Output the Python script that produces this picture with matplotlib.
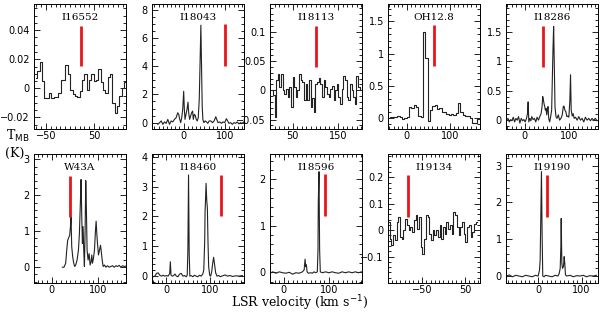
import numpy as np
import matplotlib
matplotlib.use("Agg")
import matplotlib.pyplot as plt
from matplotlib.ticker import FixedLocator, MultipleLocator, FuncFormatter

# ---------------- data ----------------
names = ["I16552", "I18043", "I18113", "OH12.8", "I18286",
         "W43A", "I18460", "I18596", "I19134", "I19190"]

# step spectra (channel start velocity, channel width, values)
i16552_v0, i16552_dv = -73.0, 4.9
i16552_T = [0.007, 0.012, 0.018, 0.005, -0.007, -0.007, -0.003, -0.007, -0.006, -0.006,
            -0.003, 0.006, 0.006, 0.016, 0.010, -0.001, -0.004, -0.005, -0.006, -0.002,
            0.006, 0.010, -0.001, 0.006, 0.010, 0.005, 0.006, 0.013, 0.004, -0.001,
            -0.003, 0.008, 0.010, -0.010, -0.017, -0.012, -0.005, 0.000, 0.004, 0.000]

i18113_v0, i18113_dv = 2.7, 3.6
i18113_T = [0, -0.008, -0.045, 0.017, 0.027, 0.006, 0.027, 0, -0.006, 0.003, -0.011, 0.006,
            -0.028, 0.023, 0.005, -0.011, 0, 0.027, 0.017, 0.014, -0.017, 0.011, -0.017,
            0.017, -0.028, -0.014, -0.037, 0.011, 0.014, 0.021, 0.011, -0.011, 0.017, 0.006,
            -0.006, -0.011, 0.003, 0.008, -0.017, 0, 0.011, -0.011, -0.023, 0.003, 0.025,
            0.017, -0.011, -0.017, 0.011, 0, -0.011, -0.023, 0.024, 0.006, 0.0]

oh128_v0, oh128_dv = -43.0, 5.4
oh128_T = [0.0, 0.01, 0.02, 0.01, 0.03, 0.02, -0.02, 0.0, 0.02, 0.17, 0.16, 0.20, 0.17,
           0.03, 0.02, 1.33, 0.93, -0.05, 0.13, 0.18, 0.20, 0.14, 0.15, 0.10, 0.10, 0.06,
           0.05, 0.07, 0.05, 0.08, 0.24, 0.10, 0.05, 0.03, 0.03, 0.0, -0.07, -0.07, -0.02,
           0.0, 0.03, 0.05]

i19134_v0, i19134_dv = -129.0, 4.0
i19134_T = [0.032, -0.032, -0.057, -0.019, -0.038, 0.032, 0.050, -0.025, -0.032, 0.0,
            0.044, 0.019, 0.0, 0.013, -0.006, 0.038, 0.057, 0.006, 0.050, -0.063, -0.092,
            -0.032, 0.057, 0.050, -0.013, -0.038, 0.0, -0.019, 0.0, -0.025, 0.019, -0.032,
            0.013, -0.013, 0.032, 0.006, 0.019, -0.013, 0.069, 0.057, 0.013, -0.019, 0.013,
            0.032, -0.013, -0.044, 0.013, 0.019, -0.025, -0.006, 0.025, 0.032]

# line spectra (velocity, value)
i18043_v = [-61.8, -57.8, -53.9, -49.9, -45.9, -41.9, -38.0, -34.0, -30.0, -26.1, -22.1,
            -18.1, -14.2, -11.8, -9.4, -7.0, -4.6, -2.2, 0.1, 1.7, 3.3, 5.7, 8.1, 10.5, 12.1,
            14.4, 16.8, 19.2, 21.6, 23.2, 25.6, 27.9, 30.3, 32.7, 35.1, 37.5, 39.8, 41.4,
            43.0, 44.6, 46.2, 48.6, 51.7, 54.9, 58.1, 61.3, 65.3, 69.2, 73.2, 77.2, 79.5,
            82.7, 86.7, 90.7, 94.6, 98.6, 102.6, 105.7, 108.9, 112.9, 116.9, 120.8, 124.8,
            128.8, 132.7, 136.7, 140.7, 144.7]
i18043_T = [-0.12, 0, 0.12, -0.12, 0.05, -0.05, 0.23, -0.12, 0.12, 0.05, 0.23, 0.35, 0.70,
            0.59, 0.23, 0, 0.35, 0.94, 2.22, 0.94, 0.23, 0.59, 0.94, 1.45, 0.70, 0.23, 0.47,
            0.70, 0.82, 0.23, 0.59, 0.51, 0.23, 0.12, 0.35, 1.64, 4.68, 6.90, 3.98, 1.17,
            0.23, 0, 0.12, 0.05, -0.05, 0.12, 0.12, 0, 0.12, 0.42, 0.23, 0, 0.05, -0.05,
            0.05, 0, 0.28, 0.12, -0.05, 0, -0.12, 0, -0.05, 0.05, -0.09, 0, -0.05, 0.05]

i18286_v = [-41.5, -38.5, -35.5, -32.5, -29.5, -26.5, -23.5, -20.5, -17.5, -14.5, -11.5,
            -8.4, -5.4, -2.4, 0.6, 3.6, 5.8, 7.3, 8.8, 11.1, 13.4, 15.6, 18.6, 21.6, 24.6,
            27.6, 30.7, 33.7, 36.7, 38.9, 40.4, 42.0, 43.4, 45.0, 46.4, 48.0, 49.5, 51.0,
            52.5, 54.0, 56.2, 58.5, 60.7, 62.2, 63.7, 65.2, 66.8, 68.3, 70.5, 72.8, 75.8,
            78.8, 81.8, 84.8, 87.1, 88.6, 90.8, 93.1, 95.3, 97.6, 99.8, 102.1, 103.6, 105.1,
            107.4, 109.6, 111.9, 114.9, 118.6, 122.4, 126.2, 129.9, 133.7, 137.4, 141.2,
            145.0, 148.7, 152.5, 156.2, 160.0, 163.8]
i18286_T = [0, 0.03, -0.03, 0.01, -0.01, 0.05, -0.03, 0.03, 0, 0.06, -0.05, 0.03, -0.01,
            0.01, -0.03, 0.03, 0.11, 0.31, -0.03, 0.03, -0.01, 0.06, 0.01, 0.03, -0.03, 0.05,
            0, 0.06, 0.11, 0.23, 0.40, 0.34, 0.28, 0.23, 0.17, 0.20, 0.09, 0.17, 0.23, 0.03,
            -0.03, 0.06, 0.17, 0.68, 1.19, 1.59, 0.91, 0.23, 0.06, 0.03, 0.09, 0, 0.03, 0.09,
            0.23, 0.24, 0.17, 0.14, 0.06, 0.07, 0.05, 0.34, 0.77, 0.17, 0.07, 0.11, 0.03,
            0.05, 0, 0.06, 0, 0.03, -0.03, 0.05, 0, 0.03, -0.01, 0.03, 0, 0.03, -0.01]

w43a_v = [23.0, 26.6, 30.2, 32.4, 34.5, 36.7, 38.8, 40.3, 41.7, 43.2, 45.3, 47.5, 49.6,
          51.8, 54.7, 57.6, 59.7, 61.9, 63.3, 64.8, 66.2, 67.6, 69.1, 70.5, 72.0, 73.4,
          74.8, 76.3, 78.4, 80.6, 82.8, 84.9, 86.4, 87.8, 90.0, 92.1, 94.3, 95.7, 97.2,
          98.6, 100.8, 102.9, 105.1, 106.5, 108.7, 110.8, 113.7, 116.6, 120.2, 123.8,
          127.4, 131.0, 134.6, 138.2, 141.8, 145.4, 149.0, 152.6, 156.2, 159.8]
w43a_T = [0, 0, 0.11, 0.47, 0.75, 0.82, 0.89, 1.11, 1.39, 0.57, 0.29, 0.11, 0.02, 0.06,
          0.20, 0.47, 0.93, 1.84, 2.44, 1.39, 0.66, 1.13, 0.47, 0.02, 1.02, 2.41, 1.57, 0.47,
          0.20, 0.38, 0.06, 0.16, 0.34, 0.11, 0.25, 0.47, 1.02, 1.28, 0.93, 0.66, 0.34, 0.47,
          0.61, 0.47, 0.20, 0.02, 0.06, 0, 0.04, 0, 0.02, 0.04, 0, 0.04, 0.02, 0.05, 0, 0.04,
          0.02, 0.03]

i18460_v = [-30.3, -26.5, -22.7, -18.9, -15.1, -11.4, -7.6, -3.8, 0.0, 3.8, 7.6, 9.1, 10.6,
            13.7, 16.7, 19.7, 22.8, 26.6, 30.3, 34.1, 37.9, 41.7, 45.5, 47.8, 49.3, 50.8,
            52.3, 53.8, 56.9, 60.7, 64.5, 68.2, 72.0, 75.8, 79.6, 83.4, 85.7, 87.2, 87.9,
            88.7, 89.5, 91.0, 92.5, 94.0, 95.5, 97.0, 99.3, 101.6, 103.9, 106.1, 108.4,
            110.7, 113.0, 116.0, 119.8, 123.6, 128.9, 134.9, 140.3, 145.6, 151.6, 159.2,
            166.8, 174.4]
i18460_T = [-0.02, 0, 0.09, 0.11, 0.03, 0, 0.03, 0, 0.02, 0, 0.09, 0.48, 0.03, 0, 0.02,
            0.07, 0, -0.02, 0.07, 0.09, 0, 0.02, -0.02, 0.03, 0.87, 3.39, 0.76, 0, 0.02,
            -0.02, 0.03, 0, -0.02, 0.03, 0, 0.07, 0.20, 0.87, 1.21, 2.16, 2.44, 3.11, 2.55,
            2.27, 1.09, 0.31, 0.03, 0, 0.15, 0.42, 0.63, 0.37, 0.11, 0, 0.02, -0.02, 0.01,
            0.04, 0, 0.02, -0.01, 0.01, 0, 0.02]

i18596_v = [-27.6, -24.0, -16.7, -9.4, -2.1, 5.2, 12.5, 19.7, 27.0, 34.3, 41.6, 45.3, 47.4,
            48.9, 50.4, 51.8, 54.7, 59.8, 63.5, 67.1, 70.8, 74.4, 75.9, 76.6, 78.1, 79.5,
            81.0, 85.4, 92.6, 99.9, 107.2, 114.5, 121.8, 129.1, 136.4, 143.7, 151.0, 158.3,
            165.5, 171.4]
i18596_T = [-0.01, 0.01, -0.02, 0.01, -0.01, -0.02, 0, -0.04, -0.01, -0.02, 0.01, 0.05,
            0.28, 0.12, 0.16, 0.01, -0.02, -0.01, -0.02, 0.01, -0.01, 0.01, 0.48, 1.52,
            2.16, 0.48, 0.01, -0.01, 0.01, -0.01, 0.01, -0.01, -0.02, 0.01, -0.01, 0.01,
            -0.01, 0.01, -0.01, 0.01]

i19190_v = [-72.6, -66.6, -59.0, -51.4, -43.8, -36.3, -28.7, -21.1, -13.5, -6.0, 0.1, 3.2,
            4.7, 6.2, 7.7, 9.2, 10.7, 13.8, 16.8, 24.4, 32.0, 39.5, 45.6, 48.6, 50.9, 52.4,
            53.2, 54.7, 56.2, 58.5, 60.0, 61.5, 63.0, 66.1, 73.7, 81.2, 88.8, 96.4, 104.0,
            111.6, 119.1, 126.7, 134.3]
i19190_T = [-0.01, 0.02, -0.03, 0.01, -0.01, -0.03, 0.01, -0.01, -0.03, 0.01, -0.01, 0.15,
            0.43, 1.61, 2.84, 1.15, -0.01, -0.03, 0.01, -0.01, -0.03, 0.01, -0.01, 0.06,
            0.20, 0.79, 1.56, 0.34, 0.20, 0.25, 0.52, 0.34, 0.02, -0.01, 0.01, -0.03, 0,
            -0.01, 0.01, -0.03, 0, -0.01, 0.01]

# red markers: velocity, bottom, top
marker_v = [23, 100, 101, 63.5, 40, 39.5, 125, 91, -81.7, 20.5]
marker_lo = [0.015, 4.0, 0.04, 0.8, 0.9, 1.4, 2.0, 1.2, 0.05, 1.6]
marker_hi = [0.043, 7.0, 0.11, 1.45, 1.6, 2.55, 3.4, 2.1, 0.21, 2.75]

# axis ranges and tick labels
xlims = [(-75, 117), (-76, 145), (0, 202), (-43, 170), (-43, 166),
         (-38, 160), (-33, 178), (-30, 173), (-129, 85), (-74, 138)]
ylims = [(-0.028, 0.058), (-0.45, 8.4), (-0.066, 0.147), (-0.17, 1.77), (-0.15, 1.97),
         (-0.44, 3.15), (-0.23, 4.09), (-0.23, 2.54), (-0.2, 0.288), (-0.2, 3.32)]
xticks = [[-50, 50], [0, 100], [50, 150], [0, 100], [0, 100],
          [0, 100], [0, 100], [0, 100], [-50, 50], [0, 100]]
yticks = [[-0.02, 0, 0.02, 0.04], [0, 2, 4, 6, 8], [-0.05, 0, 0.05, 0.1], [0, 0.5, 1, 1.5],
          [0, 0.5, 1, 1.5], [0, 1, 2, 3], [0, 1, 2, 3, 4], [0, 1, 2], [-0.1, 0, 0.1, 0.2],
          [0, 1, 2, 3]]
yminor = [0.005, 0.5, 0.01, 0.1, 0.1, 0.2, 0.2, 0.2, 0.02, 0.2]

# ---------------- figure ----------------
W, H = 600, 312
fig = plt.figure(figsize=(W / 100, H / 100), dpi=100)

col_left = [34, 152, 270, 388, 506]
col_w = 92
row_top = [4, 154]
row_h = [125, 129]


def step_arrays(v0, dv, vals):
    centers = v0 + dv * (np.arange(len(vals)) + 0.5)
    return centers, np.asarray(vals)


spectra = [
    ("step", step_arrays(i16552_v0, i16552_dv, i16552_T)),
    ("line", (i18043_v, i18043_T)),
    ("step", step_arrays(i18113_v0, i18113_dv, i18113_T)),
    ("step", step_arrays(oh128_v0, oh128_dv, oh128_T)),
    ("line", (i18286_v, i18286_T)),
    ("line", (w43a_v, w43a_T)),
    ("line", (i18460_v, i18460_T)),
    ("line", (i18596_v, i18596_T)),
    ("step", step_arrays(i19134_v0, i19134_dv, i19134_T)),
    ("line", (i19190_v, i19190_T)),
]

fmt = FuncFormatter(lambda v, p: ("%g" % v).replace("-", "\u2212"))

for i in range(10):
    r, c = divmod(i, 5)
    left = col_left[c] / W
    bottom = 1 - (row_top[r] + row_h[r]) / H
    ax = fig.add_axes([left, bottom, col_w / W, row_h[r] / H])
    kind, (xv, yv) = spectra[i]
    if kind == "step":
        ax.plot(xv, yv, drawstyle="steps-mid", color="#222222", lw=0.8)
    else:
        ax.plot(xv, yv, color="#222222", lw=0.8)
    ax.plot([marker_v[i], marker_v[i]], [marker_lo[i], marker_hi[i]],
            color="#e8151b", lw=2.0, solid_capstyle="butt")
    ax.set_xlim(*xlims[i])
    ax.set_ylim(*ylims[i])
    ax.xaxis.set_major_locator(FixedLocator(xticks[i]))
    ax.xaxis.set_minor_locator(MultipleLocator(10))
    ax.yaxis.set_major_locator(FixedLocator(yticks[i]))
    ax.yaxis.set_minor_locator(MultipleLocator(yminor[i]))
    ax.xaxis.set_major_formatter(fmt)
    ax.yaxis.set_major_formatter(fmt)
    ax.tick_params(which="both", direction="in", top=True, right=True,
                   labelsize=7, width=0.6)
    ax.tick_params(axis="x", which="major", pad=1.5)
    ax.tick_params(axis="y", which="major", pad=3)
    ax.tick_params(which="major", length=4)
    ax.tick_params(which="minor", length=2)
    for s in ax.spines.values():
        s.set_linewidth(0.7)
    ax.text(0.5, 1 - 14 / row_h[r], names[i], transform=ax.transAxes,
            ha="center", va="center", fontsize=7.5, family="DejaVu Serif")

fig.text(18 / W, 1 - 136 / H, r"T$_{\rm MB}$", ha="center", va="center",
         fontsize=9, family="DejaVu Serif")
fig.text(15 / W, 1 - 153 / H, "(K)", ha="center", va="center",
         fontsize=9, family="DejaVu Serif")
fig.text(0.5, 1 - 307.5 / H, r"LSR velocity (km s$^{-1}$)", ha="center", va="baseline",
         fontsize=9, family="DejaVu Serif")

fig.savefig("out.png", dpi=100)
